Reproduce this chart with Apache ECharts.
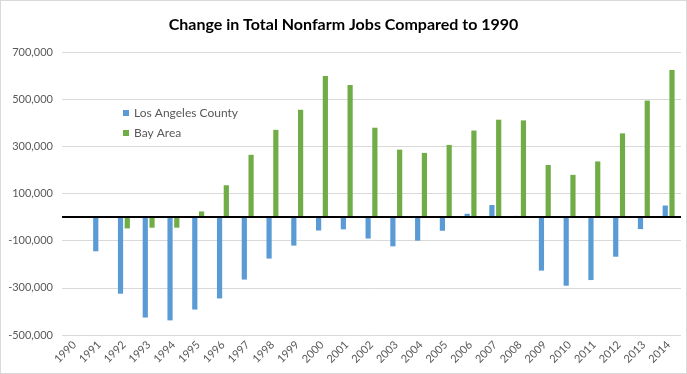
<!DOCTYPE html>
<html>
<head>
<meta charset="utf-8">
<script src="https://cdn.jsdelivr.net/npm/echarts@6/dist/echarts.min.js"></script>
<style>
  html, body { margin: 0; padding: 0; background: #fff; }
  #chart { width: 685px; height: 372px; border: 1px solid #d9d9d9; }
</style>
</head>
<body>
<div id="chart"></div>
<script>
const years = ['1990','1991','1992','1993','1994','1995','1996','1997','1998','1999','2000','2001','2002','2003','2004','2005','2006','2007','2008','2009','2010','2011','2012','2013','2014'];
const laCounty = [0,-145000,-325000,-426000,-438000,-392000,-345000,-265000,-176000,-121000,-57000,-52000,-91000,-124000,-100000,-58000,14000,51000,5000,-227000,-291000,-267000,-168000,-51000,49000];
const bayArea = [0,0,-48000,-45000,-45000,24000,135000,264000,370000,455000,598000,560000,379000,286000,272000,306000,367000,413000,410000,221000,179000,236000,355000,494000,624000];
const seriesNames = ['Los Angeles County', 'Bay Area'];
const titleText = 'Change in Total Nonfarm Jobs Compared to 1990';

const FONT = 'Lato';
const chart = echarts.init(document.getElementById('chart'));
chart.setOption({
  animation: false,
  title: {
    text: titleText,
    left: 'center',
    top: 11,
    textStyle: { fontFamily: FONT, fontSize: 16, fontWeight: 'bold', color: '#000' }
  },
  legend: {
    orient: 'vertical',
    left: 117,
    top: 101,
    itemWidth: 6,
    itemHeight: 6,
    itemGap: 8,
    icon: 'rect',
    data: seriesNames,
    textStyle: { fontFamily: FONT, fontSize: 12, color: '#595959' }
  },
  grid: { left: 61, right: 5, top: 51, bottom: 38 },
  xAxis: {
    type: 'category',
    data: years,
    axisLine: { show: false },
    axisTick: { show: false },
    axisLabel: { rotate: 45, fontFamily: FONT, fontSize: 11, color: '#595959', margin: 8, interval: 0 }
  },
  yAxis: {
    type: 'value',
    min: -500000,
    max: 700000,
    interval: 200000,
    axisLine: { show: false },
    axisTick: { show: false },
    splitLine: { lineStyle: { color: '#d9d9d9', width: 1 } },
    axisLabel: {
      fontFamily: FONT, fontSize: 11, color: '#595959', margin: 9,
      formatter: v => v.toLocaleString('en-US')
    }
  },
  series: [
    {
      name: seriesNames[0], type: 'bar', data: laCounty,
      barWidth: '21%', barGap: '30%',
      itemStyle: { color: '#5B9BD5' }
    },
    {
      name: seriesNames[1], type: 'bar', data: bayArea,
      barWidth: '21%',
      itemStyle: { color: '#70AD47' },
      markLine: {
        silent: true,
        symbol: 'none',
        label: { show: false },
        lineStyle: { color: '#000', width: 2, type: 'solid' },
        data: [{ yAxis: 0 }]
      }
    }
  ]
});
</script>
</body>
</html>
